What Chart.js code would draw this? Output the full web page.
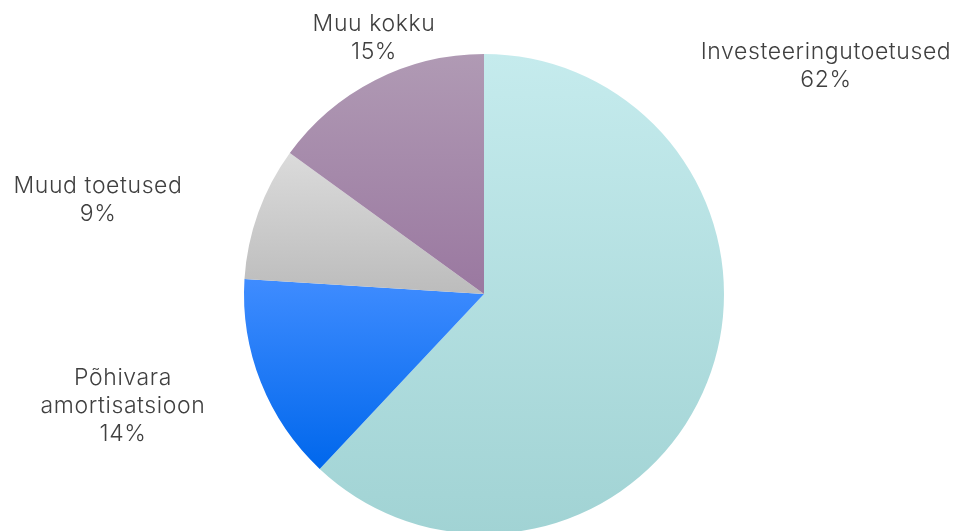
<!DOCTYPE html>
<html>
<head>
<meta charset="utf-8">
<script src="https://cdn.jsdelivr.net/npm/chart.js@4"></script>
<style>
  html, body { margin: 0; padding: 0; background: #fff; overflow: hidden; }
  #wrap { position: relative; width: 954px; height: 588px; }
</style>
</head>
<body>
<div id="wrap"><canvas id="pie"></canvas></div>
<script>
const labels = [['Investeeringutoetused'], ['Põhivara', 'amortisatsioon'], ['Muud toetused'], ['Muu kokku']];
const shares = [62, 14, 9, 15];

// top / bottom colour of each slice's vertical gradient
const gradTop = ['#c5ebed', '#3f8cff', '#dbdbdb', '#b09ab4'];
const gradBottom = ['#a1d3d4', '#0067ec', '#bcbcbc', '#9a78a0'];

// where each label block is centred (x, y of first line)
const labelAnchors = [[826, 52], [123, 378], [98, 186], [374, 24]];

// vertical extent of slice i, from the pie geometry
function sliceBounds(area, i) {
  const cx = (area.left + area.right) / 2;
  const cy = (area.top + area.bottom) / 2;
  const r = Math.min(area.width, area.height) / 2;
  const total = shares.reduce((a, b) => a + b, 0);
  const start = shares.slice(0, i).reduce((a, b) => a + b, 0) / total * 2 * Math.PI;
  const end = start + shares[i] / total * 2 * Math.PI;
  const ys = [cy];
  const steps = 64;
  for (let k = 0; k <= steps; k++) {
    const a = start + (end - start) * k / steps;
    ys.push(cy - r * Math.cos(a));
  }
  return [Math.min(...ys), Math.max(...ys)];
}

const sliceLabels = {
  id: 'sliceLabels',
  afterDraw(chart) {
    const ctx = chart.ctx;
    ctx.save();
    ctx.fillStyle = '#404040';
    ctx.font = '300 23px Inter, "Open Sans", sans-serif';
    ctx.letterSpacing = '0.6px';
    ctx.textAlign = 'center';
    ctx.textBaseline = 'middle';
    labels.forEach((lines, i) => {
      const [x, y] = labelAnchors[i];
      const all = [...lines, shares[i] + '%'];
      all.forEach((t, k) => ctx.fillText(t, x, y + k * 28));
    });
    ctx.restore();
  }
};

new Chart(document.getElementById('pie'), {
  type: 'pie',
  data: {
    labels: labels.map(l => l.join(' ')),
    datasets: [{
      data: shares,
      borderWidth: 0,
      backgroundColor: (context) => {
        const area = context.chart.chartArea;
        const i = context.dataIndex;
        if (!area || i === undefined) return gradTop[i || 0];
        const [y0, y1] = sliceBounds(area, i);
        const g = context.chart.ctx.createLinearGradient(0, y0, 0, y1);
        g.addColorStop(0, gradTop[i]);
        g.addColorStop(1, gradBottom[i]);
        return g;
      }
    }]
  },
  options: {
    responsive: true,
    maintainAspectRatio: false,
    animation: false,
    layout: { padding: { left: 244, right: 230, top: 54, bottom: 54 } },
    plugins: {
      legend: { display: false },
      tooltip: { enabled: false }
    }
  },
  plugins: [sliceLabels]
});
</script>
</body>
</html>
